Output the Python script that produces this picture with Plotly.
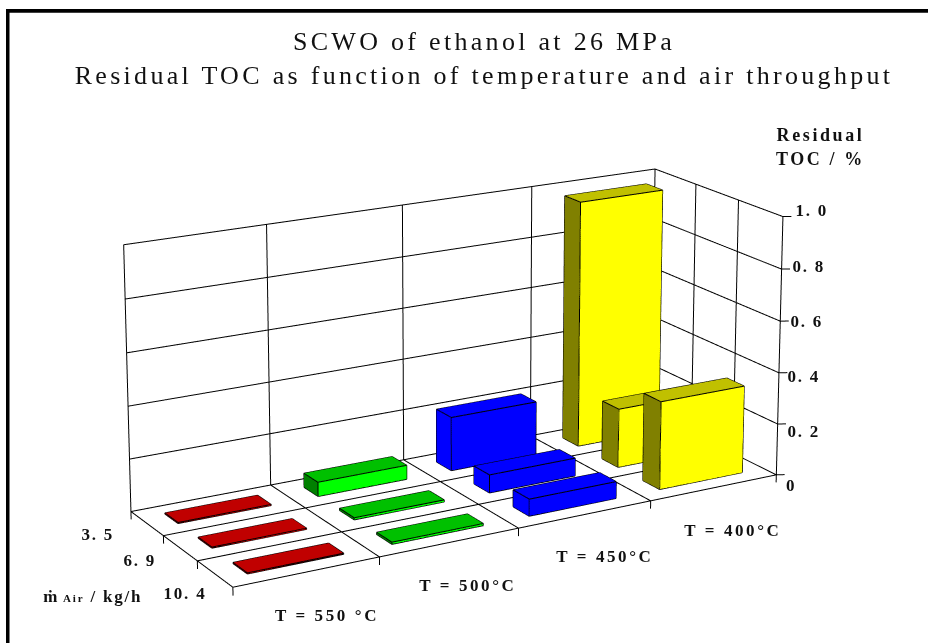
import plotly.graph_objects as go

# ---- data ----
temperatures = ["T = 550 °C", "T = 500°C", "T = 450°C", "T = 400°C"]
air_labels = ["3. 5", "6. 9", "10. 4"]
z_ticks = [0, 0.2, 0.4, 0.6, 0.8, 1.0]
z_tick_labels = ["0", "0. 2", "0. 4", "0. 6", "0. 8", "1. 0"]
toc_550 = [0.004, 0.004, 0.004]
toc_500 = [0.055, 0.008, 0.008]
toc_450 = [0.21, 0.07, 0.065]
toc_400 = [0.97, 0.23, 0.34]
series = [toc_550, toc_500, toc_450, toc_400]

# ---- styles / layout ----
COL = {0: ("#FF0000", "#C00000", "#800000"), 1: ("#00FF00", "#00C000", "#008000"),
       2: ("#0000FF", "#0000FF", "#0000FF"), 3: ("#FFFF00", "#C0C000", "#808000")}
RX, RY, RZ = [-0.2, 4.2], [-0.2, 3.2], [-0.1, 1.1]
# Plotly's 3D camera has a fixed 45 degree lens, so the reference's long-lens view
# needs a tall scene that is shifted so that the window shows the wanted part of it.
PAGE_W, TALL_H, TOP = 928, 2486, 1091


def px(x):
    return x / PAGE_W


def py(y):
    return 1 - (y + TOP) / TALL_H


fig = go.Figure()
ex, ey, ez = [], [], []


def seg(a, b):
    ex.extend([a[0], b[0], None])
    ey.extend([a[1], b[1], None])
    ez.extend([a[2], b[2], None])


for i, vals in enumerate(series):
    xs, ys, zs, I, J, K, fc = [], [], [], [], [], [], []
    for j, v in enumerate(vals):
        x0, x1 = i + .17, i + .83
        y0, y1 = (2 - j) + .3, (2 - j) + .7
        n = len(xs)
        xs += [x0, x1, x1, x0, x0, x1, x1, x0]
        ys += [y0, y0, y1, y1, y0, y0, y1, y1]
        zs += [0, 0, 0, 0, v, v, v, v]
        front, top, side = COL[i]
        for q, col in [((0, 1, 5, 4), front), ((4, 5, 6, 7), top), ((3, 0, 4, 7), side),
                       ((1, 2, 6, 5), side), ((0, 1, 2, 3), side), ((2, 3, 7, 6), side)]:
            I += [n + q[0], n + q[0]]
            J += [n + q[1], n + q[2]]
            K += [n + q[2], n + q[3]]
            fc += [col, col]
        for a, b in [(0, 1), (1, 5), (5, 4), (4, 0), (5, 6), (6, 7), (7, 4), (0, 3), (3, 7)]:
            seg((xs[n + a], ys[n + a], zs[n + a]), (xs[n + b], ys[n + b], zs[n + b]))
    fig.add_trace(go.Mesh3d(x=xs, y=ys, z=zs, i=I, j=J, k=K, facecolor=fc, flatshading=True, hoverinfo="skip",
                            lighting=dict(ambient=1, diffuse=0, specular=0, fresnel=0, roughness=1)))
fig.add_trace(go.Scatter3d(x=ex, y=ey, z=ez, mode="lines", line=dict(color="black", width=2),
                           hoverinfo="skip", connectgaps=False))

gx, gy, gz = [], [], []


def g(a, b):
    gx.extend([a[0], b[0], None])
    gy.extend([a[1], b[1], None])
    gz.extend([a[2], b[2], None])


for i in range(len(temperatures) + 1):
    g((i, 0, 0), (i, 3, 0))
    g((i, 3, 0), (i, 3, 1))
    g((i, 0, 0), (i, 0, -.03))
for j in range(len(air_labels) + 1):
    g((0, j, 0), (4, j, 0))
    g((4, j, 0), (4, j, 1))
    g((0, j, 0), (0, j, -.03))
for z in z_ticks:
    g((0, 3, z), (4, 3, z))
    g((4, 3, z), (4, 0, z))
    g((4, 0, z), (4.05, -.05, z))
fig.add_trace(go.Scatter3d(x=gx, y=gy, z=gz, mode="lines", line=dict(color="black", width=2),
                           hoverinfo="skip", connectgaps=False))


def label(t, x, y, size=17):
    fig.add_annotation(text=t, x=px(x), y=py(y), xref="paper", yref="paper", showarrow=False,
                       xanchor="center", yanchor="middle",
                       font=dict(size=size, family="Liberation Serif", color="#111111", weight=700))


for t, (x, y) in zip(z_tick_labels, [(791, 485.7), (804.3, 431.7), (804.3, 376.7), (806.7, 321.7), (809, 266.7), (811.7, 210.7)]):
    label(t, x, y)
for t, (x, y) in zip(air_labels, [(98, 534), (140, 560.7), (185, 593)]):
    label(t, x, y)
for t, (x, y) in zip(temperatures, [(326.7, 615), (468.3, 585), (605, 556.7), (733, 530.7)]):
    label(t, x, y)
label("Residual", 820, 135, 18)
label("TOC / %", 820, 159, 18)
label('ṁ<span style="font-size:11px"> Air</span> / kg/h', 93, 597)

fig.update_layout(
    width=PAGE_W, height=TALL_H, margin=dict(l=0, r=0, t=0, b=0), showlegend=False, paper_bgcolor="white",
    title=dict(text="SCWO of ethanol at 26 MPa<br>Residual TOC as function of temperature and air throughput",
               x=px(484), xanchor="center", xref="paper", yref="paper", y=py(50), yanchor="middle",
               font=dict(size=26, family="Liberation Serif", color="#111111")),
    shapes=[dict(type="rect", xref="paper", yref="paper", x0=px(6), x1=px(9.5), y0=py(643), y1=py(9), fillcolor="black", line_width=0),
            dict(type="rect", xref="paper", yref="paper", x0=px(6), x1=px(928), y0=py(12.7), y1=py(9), fillcolor="black", line_width=0)],
    scene=dict(domain=dict(x=[0, 1], y=[0, 1]), bgcolor="rgba(0,0,0,0)",
               xaxis=dict(visible=False, range=RX), yaxis=dict(visible=False, range=RY), zaxis=dict(visible=False, range=RZ),
               aspectmode="manual", aspectratio=dict(x=2, y=0.7744, z=0.968),
               camera=dict(eye=dict(x=-4.2076, y=-7.3107, z=2.6536), center=dict(x=1.3473, y=2.3036, z=0),
                           up=dict(x=-0.01788, y=-0.02881, z=1), projection=dict(type="perspective"))))
post = """
document.body.style.margin=0;document.body.style.overflow='hidden';document.documentElement.style.overflow='hidden';
var gd=document.getElementById('{plot_id}');gd.style.position='absolute';gd.style.left='0px';gd.style.top='-%dpx';
function sp(){document.querySelectorAll('.annotation-text').forEach(function(e){var t=e.textContent;
e.style.letterSpacing=(t.indexOf('T =')==0||t.indexOf('Residual')==0||t.indexOf('TOC')==0)?'2.6px':'1.8px';});
document.querySelectorAll('.gtitle').forEach(function(e){e.style.letterSpacing='3.3px';});}
sp();gd.on('plotly_afterplot',sp);setTimeout(sp,200);setTimeout(sp,1000);
""" % TOP
fig.write_html("out.html", post_script=post, config=dict(displayModeBar=False))
